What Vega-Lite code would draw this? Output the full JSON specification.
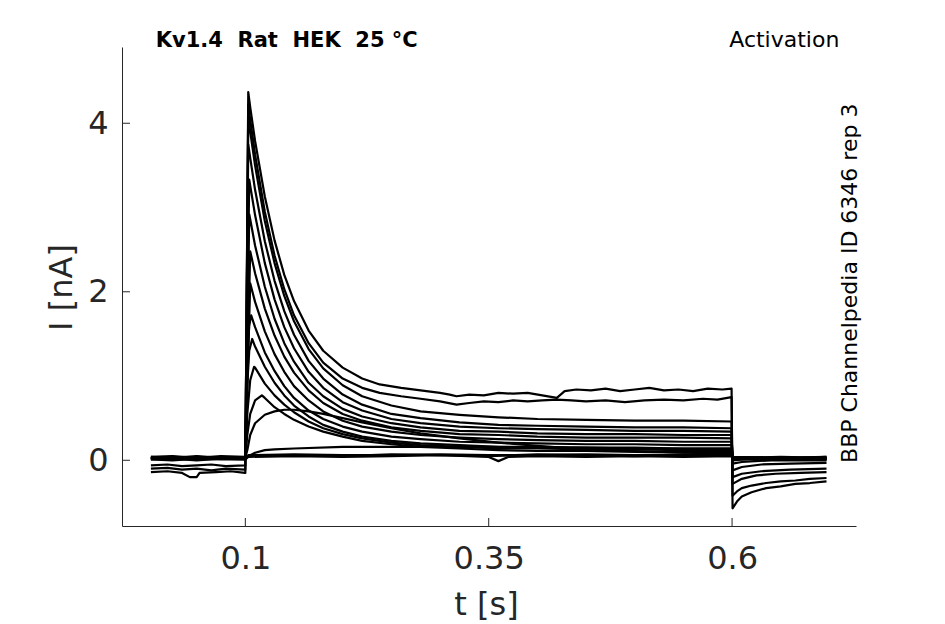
{
  "$schema": "https://vega.github.io/schema/vega-lite/v6.json",
  "width": 734,
  "height": 479,
  "autosize": "none",
  "padding": {"left": 122, "top": 47, "right": 89, "bottom": 98},
  "background": "white",
  "config": {
    "view": {"stroke": null},
    "axis": {
      "grid": false,
      "ticks": false,
      "domainColor": "#262626",
      "labelColor": "#262626",
      "titleColor": "#262626",
      "labelFont": "DejaVu Sans",
      "titleFont": "DejaVu Sans",
      "labelFontSize": 32,
      "titleFontSize": 32,
      "titleFontWeight": "normal"
    }
  },
  "layer": [
    {
      "data": {"values": [
        {"trace":1,"t":0.003,"i":-0.14},{"trace":1,"t":0.02,"i":-0.13},{"trace":1,"t":0.035,"i":-0.15},{"trace":1,"t":0.043,"i":-0.2},{"trace":1,"t":0.05,"i":-0.2},{"trace":1,"t":0.053,"i":-0.15},{"trace":1,"t":0.07,"i":-0.14},{"trace":1,"t":0.085,"i":-0.13},{"trace":1,"t":0.0995,"i":-0.15},{"trace":1,"t":0.1,"i":-0.15},
        {"trace":1,"t":0.103,"i":4.37},{"trace":1,"t":0.105,"i":4.19},{"trace":1,"t":0.11,"i":3.79},{"trace":1,"t":0.12,"i":3.13},{"trace":1,"t":0.13,"i":2.61},{"trace":1,"t":0.14,"i":2.2},{"trace":1,"t":0.15,"i":1.89},{"trace":1,"t":0.165,"i":1.54},{"trace":1,"t":0.18,"i":1.3},{"trace":1,"t":0.2,"i":1.1},{"trace":1,"t":0.22,"i":0.97},{"trace":1,"t":0.238,"i":0.9},{"trace":1,"t":0.26,"i":0.86},{"trace":1,"t":0.28,"i":0.83},{"trace":1,"t":0.3,"i":0.8},{"trace":1,"t":0.31,"i":0.78},{"trace":1,"t":0.317,"i":0.76},{"trace":1,"t":0.33,"i":0.78},{"trace":1,"t":0.345,"i":0.77},{"trace":1,"t":0.36,"i":0.8},{"trace":1,"t":0.375,"i":0.79},{"trace":1,"t":0.39,"i":0.8},{"trace":1,"t":0.405,"i":0.77},{"trace":1,"t":0.42,"i":0.74},{"trace":1,"t":0.428,"i":0.82},{"trace":1,"t":0.44,"i":0.84},{"trace":1,"t":0.455,"i":0.83},{"trace":1,"t":0.47,"i":0.85},{"trace":1,"t":0.485,"i":0.82},{"trace":1,"t":0.5,"i":0.84},{"trace":1,"t":0.515,"i":0.86},{"trace":1,"t":0.53,"i":0.83},{"trace":1,"t":0.545,"i":0.84},{"trace":1,"t":0.56,"i":0.82},{"trace":1,"t":0.575,"i":0.85},{"trace":1,"t":0.59,"i":0.84},{"trace":1,"t":0.5995,"i":0.85},
        {"trace":1,"t":0.6005,"i":-0.57},{"trace":1,"t":0.605,"i":-0.49},{"trace":1,"t":0.61,"i":-0.43},{"trace":1,"t":0.62,"i":-0.38},{"trace":1,"t":0.635,"i":-0.33},{"trace":1,"t":0.65,"i":-0.31},{"trace":1,"t":0.665,"i":-0.28},{"trace":1,"t":0.68,"i":-0.27},{"trace":1,"t":0.697,"i":-0.25},

        {"trace":2,"t":0.003,"i":-0.1},{"trace":2,"t":0.02,"i":-0.09},{"trace":2,"t":0.035,"i":-0.11},{"trace":2,"t":0.05,"i":-0.1},{"trace":2,"t":0.065,"i":-0.12},{"trace":2,"t":0.08,"i":-0.1},{"trace":2,"t":0.0995,"i":-0.11},{"trace":2,"t":0.1,"i":-0.11},
        {"trace":2,"t":0.103,"i":4.22},{"trace":2,"t":0.105,"i":4.04},{"trace":2,"t":0.11,"i":3.63},{"trace":2,"t":0.12,"i":2.95},{"trace":2,"t":0.13,"i":2.43},{"trace":2,"t":0.14,"i":2.03},{"trace":2,"t":0.15,"i":1.72},{"trace":2,"t":0.165,"i":1.39},{"trace":2,"t":0.18,"i":1.16},{"trace":2,"t":0.2,"i":0.97},{"trace":2,"t":0.22,"i":0.86},{"trace":2,"t":0.238,"i":0.8},{"trace":2,"t":0.26,"i":0.76},{"trace":2,"t":0.28,"i":0.73},{"trace":2,"t":0.3,"i":0.7},{"trace":2,"t":0.317,"i":0.66},{"trace":2,"t":0.33,"i":0.68},{"trace":2,"t":0.345,"i":0.7},{"trace":2,"t":0.36,"i":0.69},{"trace":2,"t":0.375,"i":0.71},{"trace":2,"t":0.39,"i":0.7},{"trace":2,"t":0.405,"i":0.71},{"trace":2,"t":0.42,"i":0.72},{"trace":2,"t":0.435,"i":0.71},{"trace":2,"t":0.45,"i":0.7},{"trace":2,"t":0.47,"i":0.71},{"trace":2,"t":0.49,"i":0.69},{"trace":2,"t":0.51,"i":0.71},{"trace":2,"t":0.53,"i":0.72},{"trace":2,"t":0.55,"i":0.71},{"trace":2,"t":0.57,"i":0.73},{"trace":2,"t":0.585,"i":0.72},{"trace":2,"t":0.5995,"i":0.75},
        {"trace":2,"t":0.6005,"i":-0.42},{"trace":2,"t":0.605,"i":-0.37},{"trace":2,"t":0.61,"i":-0.33},{"trace":2,"t":0.62,"i":-0.3},{"trace":2,"t":0.635,"i":-0.27},{"trace":2,"t":0.65,"i":-0.25},{"trace":2,"t":0.665,"i":-0.24},{"trace":2,"t":0.68,"i":-0.22},{"trace":2,"t":0.697,"i":-0.21},

        {"trace":3,"t":0.003,"i":-0.06},{"trace":3,"t":0.02,"i":-0.05},{"trace":3,"t":0.035,"i":-0.07},{"trace":3,"t":0.05,"i":-0.06},{"trace":3,"t":0.065,"i":-0.05},{"trace":3,"t":0.08,"i":-0.07},{"trace":3,"t":0.0995,"i":-0.06},{"trace":3,"t":0.1,"i":-0.06},
        {"trace":3,"t":0.103,"i":4.07},{"trace":3,"t":0.105,"i":3.9},{"trace":3,"t":0.11,"i":3.5},{"trace":3,"t":0.12,"i":2.84},{"trace":3,"t":0.13,"i":2.34},{"trace":3,"t":0.14,"i":1.95},{"trace":3,"t":0.15,"i":1.65},{"trace":3,"t":0.165,"i":1.32},{"trace":3,"t":0.18,"i":1.09},{"trace":3,"t":0.2,"i":0.89},{"trace":3,"t":0.22,"i":0.76},{"trace":3,"t":0.25,"i":0.65},{"trace":3,"t":0.28,"i":0.58},{"trace":3,"t":0.32,"i":0.54},{"trace":3,"t":0.36,"i":0.51},{"trace":3,"t":0.4,"i":0.49},{"trace":3,"t":0.45,"i":0.48},{"trace":3,"t":0.5,"i":0.47},{"trace":3,"t":0.55,"i":0.47},{"trace":3,"t":0.5995,"i":0.46},
        {"trace":3,"t":0.6005,"i":-0.28},{"trace":3,"t":0.61,"i":-0.22},{"trace":3,"t":0.625,"i":-0.18},{"trace":3,"t":0.645,"i":-0.16},{"trace":3,"t":0.67,"i":-0.15},{"trace":3,"t":0.697,"i":-0.14},

        {"trace":4,"t":0.003,"i":0.02},{"trace":4,"t":0.025,"i":0.03},{"trace":4,"t":0.05,"i":0.01},{"trace":4,"t":0.075,"i":0.03},{"trace":4,"t":0.0995,"i":0.02},{"trace":4,"t":0.1,"i":0.02},
        {"trace":4,"t":0.103,"i":3.75},{"trace":4,"t":0.105,"i":3.59},{"trace":4,"t":0.11,"i":3.21},{"trace":4,"t":0.12,"i":2.6},{"trace":4,"t":0.13,"i":2.13},{"trace":4,"t":0.14,"i":1.77},{"trace":4,"t":0.15,"i":1.49},{"trace":4,"t":0.165,"i":1.18},{"trace":4,"t":0.18,"i":0.97},{"trace":4,"t":0.2,"i":0.78},{"trace":4,"t":0.22,"i":0.66},{"trace":4,"t":0.25,"i":0.55},{"trace":4,"t":0.28,"i":0.5},{"trace":4,"t":0.32,"i":0.45},{"trace":4,"t":0.36,"i":0.42},{"trace":4,"t":0.4,"i":0.41},{"trace":4,"t":0.45,"i":0.4},{"trace":4,"t":0.5,"i":0.39},{"trace":4,"t":0.55,"i":0.39},{"trace":4,"t":0.5995,"i":0.38},
        {"trace":4,"t":0.6005,"i":-0.2},{"trace":4,"t":0.61,"i":-0.16},{"trace":4,"t":0.63,"i":-0.13},{"trace":4,"t":0.66,"i":-0.11},{"trace":4,"t":0.697,"i":-0.1},

        {"trace":5,"t":0.003,"i":0.03},{"trace":5,"t":0.025,"i":0.02},{"trace":5,"t":0.05,"i":0.04},{"trace":5,"t":0.075,"i":0.02},{"trace":5,"t":0.0995,"i":0.03},{"trace":5,"t":0.1,"i":0.03},
        {"trace":5,"t":0.104,"i":3.33},{"trace":5,"t":0.105,"i":3.26},{"trace":5,"t":0.11,"i":2.91},{"trace":5,"t":0.12,"i":2.34},{"trace":5,"t":0.13,"i":1.91},{"trace":5,"t":0.14,"i":1.58},{"trace":5,"t":0.15,"i":1.33},{"trace":5,"t":0.165,"i":1.05},{"trace":5,"t":0.18,"i":0.86},{"trace":5,"t":0.2,"i":0.69},{"trace":5,"t":0.22,"i":0.59},{"trace":5,"t":0.25,"i":0.49},{"trace":5,"t":0.28,"i":0.44},{"trace":5,"t":0.32,"i":0.4},{"trace":5,"t":0.36,"i":0.38},{"trace":5,"t":0.4,"i":0.37},{"trace":5,"t":0.45,"i":0.36},{"trace":5,"t":0.5,"i":0.35},{"trace":5,"t":0.55,"i":0.35},{"trace":5,"t":0.5995,"i":0.34},
        {"trace":5,"t":0.6005,"i":-0.12},{"trace":5,"t":0.61,"i":-0.08},{"trace":5,"t":0.63,"i":-0.05},{"trace":5,"t":0.66,"i":-0.04},{"trace":5,"t":0.697,"i":-0.03},

        {"trace":6,"t":0.003,"i":0.01},{"trace":6,"t":0.025,"i":0.02},{"trace":6,"t":0.05,"i":0.0},{"trace":6,"t":0.075,"i":0.02},{"trace":6,"t":0.0995,"i":0.01},{"trace":6,"t":0.1,"i":0.01},
        {"trace":6,"t":0.104,"i":2.92},{"trace":6,"t":0.105,"i":2.86},{"trace":6,"t":0.11,"i":2.55},{"trace":6,"t":0.12,"i":2.06},{"trace":6,"t":0.13,"i":1.68},{"trace":6,"t":0.14,"i":1.39},{"trace":6,"t":0.15,"i":1.17},{"trace":6,"t":0.165,"i":0.92},{"trace":6,"t":0.18,"i":0.76},{"trace":6,"t":0.2,"i":0.61},{"trace":6,"t":0.22,"i":0.52},{"trace":6,"t":0.25,"i":0.44},{"trace":6,"t":0.28,"i":0.39},{"trace":6,"t":0.32,"i":0.35},{"trace":6,"t":0.36,"i":0.34},{"trace":6,"t":0.4,"i":0.32},{"trace":6,"t":0.45,"i":0.31},{"trace":6,"t":0.5,"i":0.31},{"trace":6,"t":0.55,"i":0.3},{"trace":6,"t":0.5995,"i":0.3},
        {"trace":6,"t":0.6005,"i":-0.04},{"trace":6,"t":0.61,"i":-0.02},{"trace":6,"t":0.64,"i":0.0},{"trace":6,"t":0.697,"i":0.0},

        {"trace":7,"t":0.003,"i":0.04},{"trace":7,"t":0.025,"i":0.03},{"trace":7,"t":0.05,"i":0.05},{"trace":7,"t":0.075,"i":0.03},{"trace":7,"t":0.0995,"i":0.04},{"trace":7,"t":0.1,"i":0.04},
        {"trace":7,"t":0.105,"i":2.48},{"trace":7,"t":0.11,"i":2.22},{"trace":7,"t":0.12,"i":1.8},{"trace":7,"t":0.13,"i":1.48},{"trace":7,"t":0.14,"i":1.23},{"trace":7,"t":0.15,"i":1.04},{"trace":7,"t":0.165,"i":0.83},{"trace":7,"t":0.18,"i":0.68},{"trace":7,"t":0.2,"i":0.55},{"trace":7,"t":0.22,"i":0.47},{"trace":7,"t":0.25,"i":0.39},{"trace":7,"t":0.28,"i":0.35},{"trace":7,"t":0.32,"i":0.31},{"trace":7,"t":0.36,"i":0.3},{"trace":7,"t":0.4,"i":0.28},{"trace":7,"t":0.45,"i":0.27},{"trace":7,"t":0.5,"i":0.27},{"trace":7,"t":0.55,"i":0.27},{"trace":7,"t":0.5995,"i":0.26},
        {"trace":7,"t":0.6005,"i":0.0},{"trace":7,"t":0.62,"i":0.02},{"trace":7,"t":0.65,"i":0.01},{"trace":7,"t":0.697,"i":0.02},

        {"trace":8,"t":0.003,"i":0.02},{"trace":8,"t":0.025,"i":0.04},{"trace":8,"t":0.05,"i":0.02},{"trace":8,"t":0.075,"i":0.03},{"trace":8,"t":0.0995,"i":0.02},{"trace":8,"t":0.1,"i":0.02},
        {"trace":8,"t":0.105,"i":2.1},{"trace":8,"t":0.11,"i":1.88},{"trace":8,"t":0.12,"i":1.53},{"trace":8,"t":0.13,"i":1.26},{"trace":8,"t":0.14,"i":1.05},{"trace":8,"t":0.15,"i":0.88},{"trace":8,"t":0.165,"i":0.71},{"trace":8,"t":0.18,"i":0.58},{"trace":8,"t":0.2,"i":0.47},{"trace":8,"t":0.22,"i":0.4},{"trace":8,"t":0.25,"i":0.34},{"trace":8,"t":0.28,"i":0.3},{"trace":8,"t":0.32,"i":0.27},{"trace":8,"t":0.36,"i":0.25},{"trace":8,"t":0.4,"i":0.24},{"trace":8,"t":0.45,"i":0.23},{"trace":8,"t":0.5,"i":0.23},{"trace":8,"t":0.55,"i":0.22},{"trace":8,"t":0.5995,"i":0.22},
        {"trace":8,"t":0.6005,"i":0.01},{"trace":8,"t":0.63,"i":0.03},{"trace":8,"t":0.66,"i":0.02},{"trace":8,"t":0.697,"i":0.03},

        {"trace":9,"t":0.003,"i":0.03},{"trace":9,"t":0.025,"i":0.02},{"trace":9,"t":0.05,"i":0.04},{"trace":9,"t":0.075,"i":0.02},{"trace":9,"t":0.0995,"i":0.03},{"trace":9,"t":0.1,"i":0.03},
        {"trace":9,"t":0.102,"i":1.2},{"trace":9,"t":0.104,"i":1.6},{"trace":9,"t":0.106,"i":1.72},{"trace":9,"t":0.11,"i":1.58},{"trace":9,"t":0.12,"i":1.28},{"trace":9,"t":0.13,"i":1.06},{"trace":9,"t":0.14,"i":0.88},{"trace":9,"t":0.15,"i":0.74},{"trace":9,"t":0.165,"i":0.59},{"trace":9,"t":0.18,"i":0.49},{"trace":9,"t":0.2,"i":0.4},{"trace":9,"t":0.22,"i":0.34},{"trace":9,"t":0.25,"i":0.28},{"trace":9,"t":0.28,"i":0.25},{"trace":9,"t":0.32,"i":0.22},{"trace":9,"t":0.36,"i":0.21},{"trace":9,"t":0.4,"i":0.2},{"trace":9,"t":0.45,"i":0.19},{"trace":9,"t":0.5,"i":0.19},{"trace":9,"t":0.55,"i":0.18},{"trace":9,"t":0.5995,"i":0.18},
        {"trace":9,"t":0.6005,"i":0.02},{"trace":9,"t":0.63,"i":0.01},{"trace":9,"t":0.66,"i":0.03},{"trace":9,"t":0.697,"i":0.01},

        {"trace":10,"t":0.003,"i":0.02},{"trace":10,"t":0.025,"i":0.01},{"trace":10,"t":0.05,"i":0.03},{"trace":10,"t":0.075,"i":0.02},{"trace":10,"t":0.0995,"i":0.02},{"trace":10,"t":0.1,"i":0.02},
        {"trace":10,"t":0.102,"i":0.9},{"trace":10,"t":0.104,"i":1.3},{"trace":10,"t":0.107,"i":1.44},{"trace":10,"t":0.11,"i":1.35},{"trace":10,"t":0.12,"i":1.11},{"trace":10,"t":0.13,"i":0.92},{"trace":10,"t":0.14,"i":0.77},{"trace":10,"t":0.15,"i":0.65},{"trace":10,"t":0.165,"i":0.52},{"trace":10,"t":0.18,"i":0.42},{"trace":10,"t":0.2,"i":0.34},{"trace":10,"t":0.22,"i":0.28},{"trace":10,"t":0.25,"i":0.23},{"trace":10,"t":0.28,"i":0.2},{"trace":10,"t":0.32,"i":0.18},{"trace":10,"t":0.36,"i":0.16},{"trace":10,"t":0.4,"i":0.16},{"trace":10,"t":0.45,"i":0.15},{"trace":10,"t":0.5,"i":0.15},{"trace":10,"t":0.55,"i":0.14},{"trace":10,"t":0.5995,"i":0.14},
        {"trace":10,"t":0.6005,"i":0.03},{"trace":10,"t":0.64,"i":0.02},{"trace":10,"t":0.697,"i":0.03},

        {"trace":11,"t":0.003,"i":0.03},{"trace":11,"t":0.025,"i":0.04},{"trace":11,"t":0.05,"i":0.02},{"trace":11,"t":0.075,"i":0.04},{"trace":11,"t":0.0995,"i":0.03},{"trace":11,"t":0.1,"i":0.03},
        {"trace":11,"t":0.102,"i":0.55},{"trace":11,"t":0.105,"i":0.95},{"trace":11,"t":0.109,"i":1.11},{"trace":11,"t":0.11,"i":1.1},{"trace":11,"t":0.12,"i":0.91},{"trace":11,"t":0.13,"i":0.77},{"trace":11,"t":0.14,"i":0.66},{"trace":11,"t":0.15,"i":0.57},{"trace":11,"t":0.165,"i":0.46},{"trace":11,"t":0.18,"i":0.38},{"trace":11,"t":0.2,"i":0.31},{"trace":11,"t":0.22,"i":0.26},{"trace":11,"t":0.25,"i":0.21},{"trace":11,"t":0.28,"i":0.18},{"trace":11,"t":0.32,"i":0.16},{"trace":11,"t":0.36,"i":0.14},{"trace":11,"t":0.4,"i":0.14},{"trace":11,"t":0.45,"i":0.13},{"trace":11,"t":0.5,"i":0.13},{"trace":11,"t":0.55,"i":0.12},{"trace":11,"t":0.5995,"i":0.12},
        {"trace":11,"t":0.6005,"i":0.02},{"trace":11,"t":0.65,"i":0.03},{"trace":11,"t":0.697,"i":0.02},

        {"trace":12,"t":0.003,"i":0.02},{"trace":12,"t":0.025,"i":0.03},{"trace":12,"t":0.05,"i":0.01},{"trace":12,"t":0.075,"i":0.03},{"trace":12,"t":0.0995,"i":0.02},{"trace":12,"t":0.1,"i":0.02},
        {"trace":12,"t":0.102,"i":0.3},{"trace":12,"t":0.105,"i":0.55},{"trace":12,"t":0.11,"i":0.71},{"trace":12,"t":0.117,"i":0.77},{"trace":12,"t":0.12,"i":0.74},{"trace":12,"t":0.13,"i":0.63},{"trace":12,"t":0.14,"i":0.55},{"trace":12,"t":0.15,"i":0.48},{"trace":12,"t":0.165,"i":0.4},{"trace":12,"t":0.18,"i":0.34},{"trace":12,"t":0.2,"i":0.28},{"trace":12,"t":0.22,"i":0.23},{"trace":12,"t":0.25,"i":0.19},{"trace":12,"t":0.28,"i":0.16},{"trace":12,"t":0.32,"i":0.14},{"trace":12,"t":0.36,"i":0.12},{"trace":12,"t":0.4,"i":0.11},{"trace":12,"t":0.45,"i":0.11},{"trace":12,"t":0.5,"i":0.1},{"trace":12,"t":0.55,"i":0.1},{"trace":12,"t":0.5995,"i":0.1},
        {"trace":12,"t":0.6005,"i":0.03},{"trace":12,"t":0.65,"i":0.02},{"trace":12,"t":0.697,"i":0.04},

        {"trace":13,"t":0.003,"i":0.03},{"trace":13,"t":0.025,"i":0.02},{"trace":13,"t":0.05,"i":0.04},{"trace":13,"t":0.075,"i":0.03},{"trace":13,"t":0.0995,"i":0.03},{"trace":13,"t":0.1,"i":0.03},
        {"trace":13,"t":0.102,"i":0.12},{"trace":13,"t":0.105,"i":0.3},{"trace":13,"t":0.11,"i":0.44},{"trace":13,"t":0.12,"i":0.54},{"trace":13,"t":0.13,"i":0.58},{"trace":13,"t":0.14,"i":0.6},{"trace":13,"t":0.15,"i":0.6},{"trace":13,"t":0.165,"i":0.58},{"trace":13,"t":0.18,"i":0.55},{"trace":13,"t":0.2,"i":0.5},{"trace":13,"t":0.22,"i":0.45},{"trace":13,"t":0.25,"i":0.38},{"trace":13,"t":0.28,"i":0.32},{"trace":13,"t":0.32,"i":0.26},{"trace":13,"t":0.36,"i":0.21},{"trace":13,"t":0.4,"i":0.17},{"trace":13,"t":0.45,"i":0.13},{"trace":13,"t":0.5,"i":0.11},{"trace":13,"t":0.55,"i":0.09},{"trace":13,"t":0.5995,"i":0.08},
        {"trace":13,"t":0.6005,"i":0.02},{"trace":13,"t":0.65,"i":0.03},{"trace":13,"t":0.697,"i":0.02},

        {"trace":14,"t":0.003,"i":0.02},{"trace":14,"t":0.025,"i":0.03},{"trace":14,"t":0.05,"i":0.01},{"trace":14,"t":0.075,"i":0.02},{"trace":14,"t":0.0995,"i":0.02},{"trace":14,"t":0.1,"i":0.02},
        {"trace":14,"t":0.105,"i":0.06},{"trace":14,"t":0.11,"i":0.09},{"trace":14,"t":0.12,"i":0.12},{"trace":14,"t":0.13,"i":0.13},{"trace":14,"t":0.15,"i":0.14},{"trace":14,"t":0.2,"i":0.16},{"trace":14,"t":0.25,"i":0.16},{"trace":14,"t":0.3,"i":0.16},{"trace":14,"t":0.35,"i":0.16},{"trace":14,"t":0.4,"i":0.15},{"trace":14,"t":0.45,"i":0.15},{"trace":14,"t":0.5,"i":0.14},{"trace":14,"t":0.55,"i":0.14},{"trace":14,"t":0.5995,"i":0.14},
        {"trace":14,"t":0.6005,"i":0.03},{"trace":14,"t":0.65,"i":0.04},{"trace":14,"t":0.697,"i":0.03},

        {"trace":15,"t":0.003,"i":0.04},{"trace":15,"t":0.025,"i":0.05},{"trace":15,"t":0.05,"i":0.03},{"trace":15,"t":0.075,"i":0.05},{"trace":15,"t":0.0995,"i":0.04},{"trace":15,"t":0.1,"i":0.04},
        {"trace":15,"t":0.103,"i":0.05},{"trace":15,"t":0.15,"i":0.06},{"trace":15,"t":0.2,"i":0.05},{"trace":15,"t":0.25,"i":0.07},{"trace":15,"t":0.3,"i":0.06},{"trace":15,"t":0.35,"i":0.05},{"trace":15,"t":0.4,"i":0.07},{"trace":15,"t":0.45,"i":0.06},{"trace":15,"t":0.5,"i":0.05},{"trace":15,"t":0.55,"i":0.06},{"trace":15,"t":0.5995,"i":0.06},
        {"trace":15,"t":0.6005,"i":0.04},{"trace":15,"t":0.65,"i":0.03},{"trace":15,"t":0.697,"i":0.04},

        {"trace":16,"t":0.003,"i":0.01},{"trace":16,"t":0.025,"i":0.0},{"trace":16,"t":0.05,"i":0.02},{"trace":16,"t":0.075,"i":0.01},{"trace":16,"t":0.0995,"i":0.01},{"trace":16,"t":0.1,"i":0.01},
        {"trace":16,"t":0.103,"i":0.04},{"trace":16,"t":0.15,"i":0.05},{"trace":16,"t":0.2,"i":0.04},{"trace":16,"t":0.25,"i":0.05},{"trace":16,"t":0.3,"i":0.06},{"trace":16,"t":0.35,"i":0.04},{"trace":16,"t":0.36,"i":-0.01},{"trace":16,"t":0.37,"i":0.04},{"trace":16,"t":0.4,"i":0.05},{"trace":16,"t":0.45,"i":0.04},{"trace":16,"t":0.5,"i":0.05},{"trace":16,"t":0.55,"i":0.04},{"trace":16,"t":0.5995,"i":0.05},
        {"trace":16,"t":0.6005,"i":0.02},{"trace":16,"t":0.65,"i":0.01},{"trace":16,"t":0.697,"i":0.02},

        {"trace":17,"t":0.003,"i":0.03},{"trace":17,"t":0.025,"i":0.04},{"trace":17,"t":0.05,"i":0.03},{"trace":17,"t":0.075,"i":0.02},{"trace":17,"t":0.0995,"i":0.03},{"trace":17,"t":0.1,"i":0.03},
        {"trace":17,"t":0.103,"i":0.06},{"trace":17,"t":0.15,"i":0.07},{"trace":17,"t":0.2,"i":0.06},{"trace":17,"t":0.25,"i":0.06},{"trace":17,"t":0.3,"i":0.07},{"trace":17,"t":0.35,"i":0.06},{"trace":17,"t":0.4,"i":0.06},{"trace":17,"t":0.45,"i":0.07},{"trace":17,"t":0.5,"i":0.06},{"trace":17,"t":0.55,"i":0.07},{"trace":17,"t":0.5995,"i":0.06},
        {"trace":17,"t":0.6005,"i":0.01},{"trace":17,"t":0.65,"i":0.02},{"trace":17,"t":0.697,"i":0.01}
      ]},
      "mark": {"type": "line", "color": "black", "strokeWidth": 2.2, "strokeJoin": "round"},
      "encoding": {
        "x": {
          "field": "t",
          "type": "quantitative",
          "scale": {"domain": [-0.0267, 0.7273], "nice": false, "zero": false},
          "axis": {
            "title": "t [s]",
            "values": [0.1, 0.35, 0.6],
            "format": "~g",
            "labelPadding": 42,
            "labelBaseline": "alphabetic",
            "titleX": 364,
            "titleY": 88,
            "titleBaseline": "alphabetic",
            "titleAlign": "center"
          }
        },
        "y": {
          "field": "i",
          "type": "quantitative",
          "scale": {"domain": [-0.78, 4.905], "nice": false, "zero": false},
          "axis": {
            "title": "I [nA]",
            "values": [0, 2, 4],
            "format": "d",
            "labelPadding": 14,
            "labelBaseline": "middle",
            "titleAngle": -90,
            "titleX": -51,
            "titleY": 240,
            "titleBaseline": "alphabetic",
            "titleAlign": "center"
          }
        },
        "detail": {"field": "trace", "type": "nominal"}
      }
    },
    {
      "data": {"values": [{"tick": 0.1}, {"tick": 0.35}, {"tick": 0.6}]},
      "mark": {"type": "rule", "color": "#262626", "strokeWidth": 1},
      "encoding": {"x": {"field": "tick", "type": "quantitative"}, "y": {"datum": -0.78}, "y2": {"datum": -0.685}}
    },
    {
      "data": {"values": [{"tick": 0}, {"tick": 2}, {"tick": 4}]},
      "mark": {"type": "rule", "color": "#262626", "strokeWidth": 1},
      "encoding": {"y": {"field": "tick", "type": "quantitative"}, "x": {"datum": -0.0267}, "x2": {"datum": -0.0185}}
    },
    {
      "data": {"values": [{"label": "Kv1.4\u00a0 Rat\u00a0 HEK\u00a0 25 °C"}]},
      "mark": {"type": "text", "align": "left", "baseline": "alphabetic", "font": "DejaVu Sans", "fontSize": 21, "fontWeight": "bold", "color": "black"},
      "encoding": {"x": {"datum": 0.0079}, "y": {"datum": 4.908}, "text": {"field": "label"}}
    },
    {
      "data": {"values": [{"label": "Activation"}]},
      "mark": {"type": "text", "align": "right", "baseline": "alphabetic", "font": "DejaVu Sans", "fontSize": 22, "color": "black"},
      "encoding": {"x": {"datum": 0.7102}, "y": {"datum": 4.908}, "text": {"field": "label"}}
    },
    {
      "data": {"values": [{"label": "BBP Channelpedia ID 6346 rep 3"}]},
      "mark": {"type": "text", "align": "center", "baseline": "middle", "angle": 270, "font": "DejaVu Sans", "fontSize": 22, "color": "black"},
      "encoding": {"x": {"datum": 0.7214}, "y": {"datum": 2.101}, "text": {"field": "label"}}
    }
  ]
}
